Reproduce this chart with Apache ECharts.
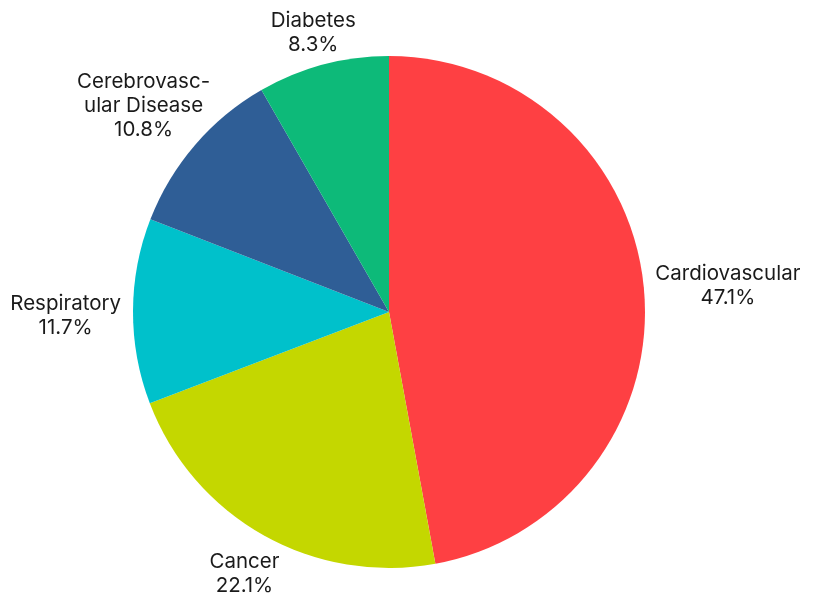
<!DOCTYPE html>
<html>
<head>
<meta charset="utf-8">
<script src="https://cdn.jsdelivr.net/npm/echarts@6/dist/echarts.min.js"></script>
<style>
  html, body { margin: 0; padding: 0; background: #fff; }
  #chart { width: 817px; height: 598px; }
</style>
</head>
<body>
<div id="chart"></div>
<script>
// data
const categories = ["Cardiovascular", "Cancer", "Respiratory", "Cerebrovasc-\nular Disease", "Diabetes"];
const shares = [47.1, 22.1, 11.7, 10.8, 8.3];
const colors = ["#fe4043", "#c4d700", "#00c1cb", "#2f5e96", "#0dba79"];

const pieCenter = [389, 312];
const pieRadius = 256;

let chart = echarts.init(document.getElementById("chart"));

// mid angle of each slice, clockwise from top
const total = shares.reduce((a, b) => a + b, 0);
let acc = 0;
const midAngles = shares.map((v) => {
  const mid = (acc + v / 2) / total * Math.PI * 2;
  acc += v;
  return mid;
});

chart.setOption({
  animation: false,
  color: colors,
  series: [
    {
      type: "pie",
      center: pieCenter,
      radius: pieRadius,
      startAngle: 90,
      clockwise: true,
      data: categories.map((name, i) => ({ name: name, value: shares[i] })),
      label: {
        show: true,
        position: "outside",
        formatter: (p) => p.name + "\n" + p.value.toFixed(1) + "%",
        fontFamily: "Inter",
        fontSize: 20.5,
        lineHeight: 24,
        color: "#1a1a1a",
        overflow: "none",
      },
      labelLine: { show: false },
      labelLayout: function (params) {
        // push the label centre out along the slice's mid ray until it clears the rim
        const a = midAngles[params.dataIndex];
        const ux = Math.sin(a);
        const uy = -Math.cos(a);
        const hw = params.labelRect.width / 2;
        const hh = params.labelRect.height / 2;
        const t = pieRadius + Math.hypot(hw * ux, hh * uy) + 12;
        return {
          x: pieCenter[0] + t * ux,
          y: pieCenter[1] + t * uy + 5,
          align: "center",
          verticalAlign: "middle",
        };
      },
    },
  ],
});
</script>
</body>
</html>
